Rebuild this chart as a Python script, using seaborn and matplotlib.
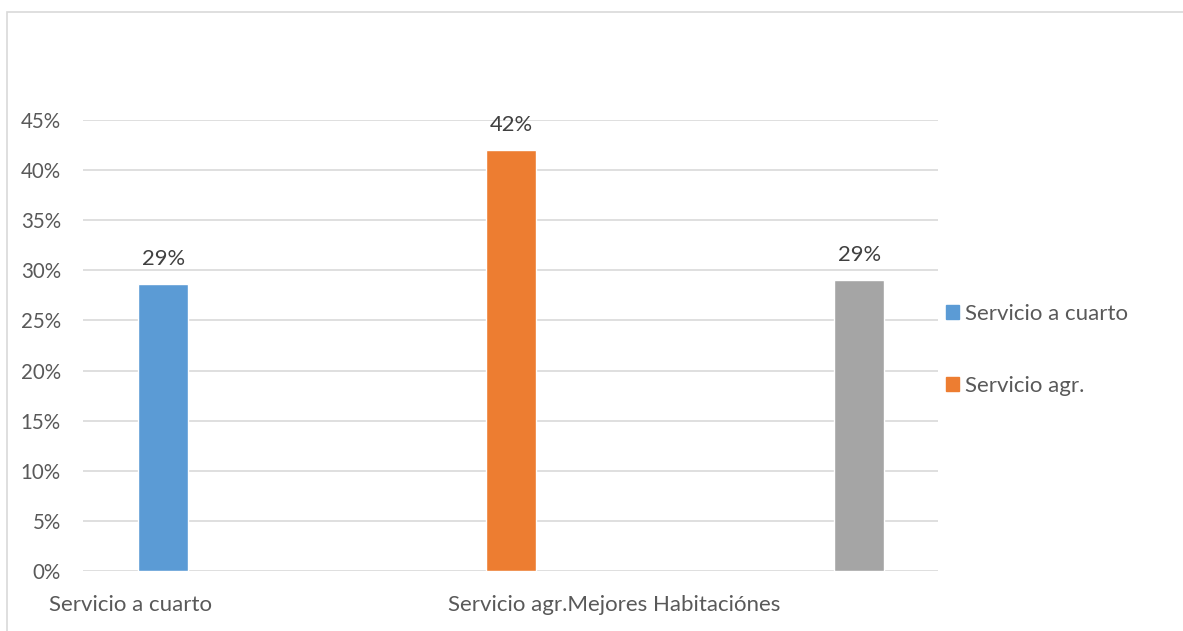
import matplotlib
matplotlib.use("Agg")
import matplotlib.pyplot as plt
import seaborn as sns
import pandas as pd
from matplotlib.patches import Rectangle

# Survey results: share of responses per service
series = ["Servicio a cuarto", "Servicio agr.", "Mejores Habitaciónes"]
values = [0.286, 0.42, 0.29]
value_labels = ["29%", "42%", "29%"]
palette = ["#5B9BD5", "#ED7D31", "#A5A5A5"]
category_labels = ["Servicio a cuarto", "Servicio agr.Mejores Habitaciónes"]
yticks = [0, 0.05, 0.10, 0.15, 0.20, 0.25, 0.30, 0.35, 0.40, 0.45]
ytick_labels = ["0%", "5%", "10%", "15%", "20%", "25%", "30%", "35%", "40%", "45%"]

df = pd.DataFrame({"serie": series, "valor": values})

sns.set_theme(style="white")
plt.rcParams["font.family"] = ["Lato", "DejaVu Sans"]
text_color = "#595959"
grid_color = "#D9D9D9"

fig = plt.figure(figsize=(11.83, 6.31), dpi=100)
ax = fig.add_axes([0.0702, 0.0951, 0.7228, 0.7147])

sns.barplot(data=df, x="serie", y="valor", hue="serie", palette=palette,
            width=0.144, dodge=False, legend=False, ax=ax, saturation=1)

ax.set_xlim(-0.23, 2.227)
ax.set_ylim(0, 0.45)
ax.set_yticks(yticks)
ax.set_yticklabels(ytick_labels, color=text_color, fontsize=14.8)
ax.set_xticks([])
ax.set_xlabel("")
ax.set_ylabel("")
ax.tick_params(axis="y", length=0, pad=16)
for lbl in ax.get_yticklabels():
    lbl.set_horizontalalignment("right")

ax.grid(axis="y", color=grid_color, linewidth=1.2)
ax.set_axisbelow(True)
for s in ax.spines.values():
    s.set_visible(False)

# value labels above the bars
for i, (v, t) in enumerate(zip(values, value_labels)):
    ax.annotate(t, (i, v), xytext=(0, 11), textcoords="offset points",
                ha="center", va="bottom", fontsize=15.8, color="#404040")

# category labels under the axis
ax.text(0.0556, -0.076, category_labels[0], transform=ax.transAxes,
        ha="center", va="center", fontsize=16, color=text_color)
ax.text(0.621, -0.076, category_labels[1], transform=ax.transAxes,
        ha="center", va="center", fontsize=16, color=text_color)

# legend (first two series)
handles = [Rectangle((0, 0), 1, 1, color=palette[i]) for i in range(2)]
fig.legend(handles, series[:2], loc="upper left", bbox_to_anchor=(0.7995, 0.519),
           frameon=False, fontsize=16, labelcolor=text_color,
           handlelength=0.6, handleheight=0.6, handletextpad=0.25,
           labelspacing=2.35, borderaxespad=0, borderpad=0)

# outer chart frame
fig.patches.append(Rectangle((7 / 1183, -0.1), 1.2, 1 - 12 / 631 + 0.1,
                             transform=fig.transFigure, fill=False,
                             edgecolor=grid_color, linewidth=1.2))

fig.savefig("out.png", dpi=100)
